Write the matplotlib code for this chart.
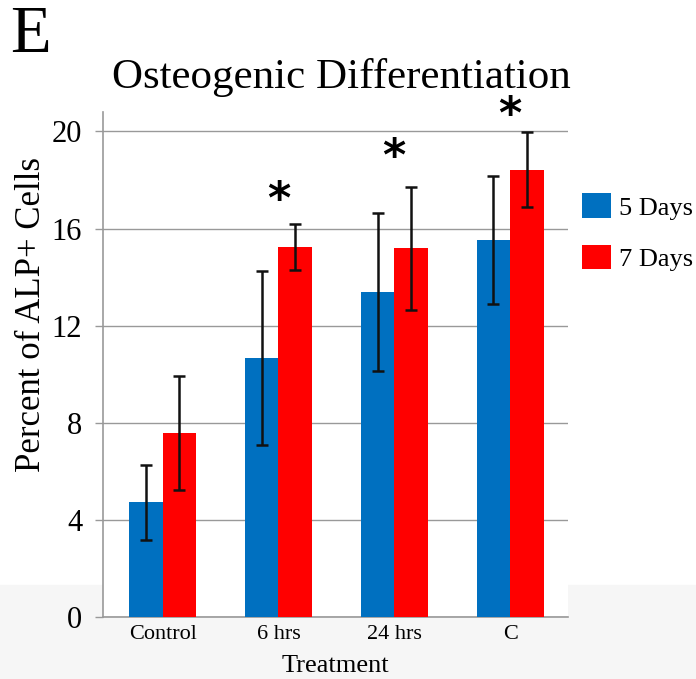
import numpy as np
import matplotlib
matplotlib.use("Agg")
import matplotlib.pyplot as plt
from matplotlib.patches import Rectangle

# data
treatments = ["Control", "6 hrs", "24 hrs", "C"]
days5 = [4.73, 10.66, 13.40, 15.54]
days5_err = [1.55, 3.58, 3.25, 2.64]
days7 = [7.57, 15.25, 15.19, 18.42]
days7_err = [2.35, 0.95, 2.53, 1.55]
stars = ["", "*", "*", "*"]
star_y = [0, 17.45, 19.22, 20.95]   # centre height of each star, data units

blue = "#0070C0"
red = "#FF0000"

plt.rcParams["font.family"] = ["Liberation Serif", "DejaVu Serif"]

fig = plt.figure(figsize=(6.96, 6.79), dpi=100)
# faint grey band at the bottom of the scan
fig.patches.append(Rectangle((0, 0), 1, 1 - 585 / 679, transform=fig.transFigure,
                             color="#f6f6f6", zorder=-10))

ax = fig.add_axes([103 / 696, 1 - 617 / 679, 465 / 696, 505 / 679])
ax.set_facecolor("white")

x = np.arange(len(treatments))
w = 0.289
ekw = dict(elinewidth=1.8, capthick=1.8, ecolor="#111111")
ax.bar(x - w / 2, days5, w, color=blue, yerr=days5_err, capsize=4.5,
       error_kw=ekw, label="5 Days", zorder=3)
ax.bar(x + w / 2, days7, w, color=red, yerr=days7_err, capsize=4.5,
       error_kw=ekw, label="7 Days", zorder=3)

# significance stars above each group (asterisk ink sits ~0.82 units above baseline)
for i, s in enumerate(stars):
    if s:
        ax.text(x[i], star_y[i] - 0.82, s, ha="center", va="baseline", fontsize=32,
                fontweight="bold", family="DejaVu Sans", zorder=4, clip_on=False)

ax.set_xlim(-0.515, 3.5)
ax.set_ylim(0, 20.8)
ax.set_yticks([0, 4, 8, 12, 16, 20])
ax.set_xticks(x)
ax.set_xticklabels(treatments, fontsize=16)
ax.tick_params(axis="y", labelsize=22, length=6, color="#999999", width=1, pad=9)
ax.tick_params(axis="x", length=0, pad=6)
ax.yaxis.grid(True, color="#999999", linewidth=1)
ax.set_axisbelow(True)
for side in ["top", "right"]:
    ax.spines[side].set_visible(False)
for side in ["left", "bottom"]:
    ax.spines[side].set_color("#999999")
    ax.spines[side].set_linewidth(1.2)

ax.set_xlabel("Treatment", fontsize=19, labelpad=8)
ax.set_ylabel("Percent of ALP+ Cells", fontsize=25)
ax.yaxis.set_label_coords(-0.118, 0.6)

fig.text(0.49, 1 - 88 / 679, "Osteogenic Differentiation", ha="center", va="baseline",
         fontsize=31)
fig.text(10 / 696, 1 - 36 / 679, "E", ha="left", va="center", fontsize=48)

ax.legend(loc="center left", bbox_to_anchor=(1.03, 0.762), frameon=False,
          fontsize=19, handlelength=1.1, handleheight=1.05, handletextpad=0.3,
          labelspacing=0.95, borderaxespad=0, borderpad=0)

fig.savefig("out.png", dpi=100)
